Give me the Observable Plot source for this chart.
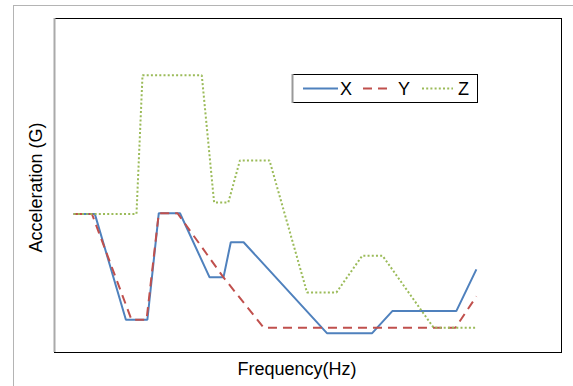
<!DOCTYPE html>
<html>
<head>
<meta charset="utf-8">
<script src="https://cdn.jsdelivr.net/npm/d3@7"></script>
<script src="https://cdn.jsdelivr.net/npm/@observablehq/plot@0.6"></script>
<style>
  html, body { margin: 0; padding: 0; background: #fff; }
  #wrap { position: relative; width: 573px; height: 386px; overflow: hidden; font-family: "Liberation Sans", Arial, sans-serif; }
  #outer { position: absolute; left: 13px; top: 5px; width: 600px; height: 400px; border-left: 1.5px solid #b4b4b4; border-top: 1.5px solid #b4b4b4; }
  #legend { position: absolute; left: 0; top: 0; }
</style>
</head>
<body>
<div id="wrap"><div id="outer"></div></div>
<script>
// Series (frequency in arbitrary units, acceleration in arbitrary G units; no tick labels on the original)
const seriesNames = ["X", "Y", "Z"];
const xFreq = [3.77, 7.95, 14.08, 18.32, 20.57, 24.75, 30.59, 33.33, 34.77, 37.3, 53.73, 62.66, 66.63, 79.25, 83.21];
const xAcc  = [4.15, 4.15, 0.98, 0.98, 4.17, 4.17, 2.25, 2.25, 3.3, 3.3, 0.58, 0.58, 1.24, 1.24, 2.49];
const yFreq = [3.77, 7.38, 15.19, 18.15, 20.57, 24.26, 33.33, 41.26, 79.09, 83.21];
const yAcc  = [4.15, 4.15, 0.98, 0.98, 4.17, 4.17, 2.25, 0.74, 0.74, 1.68];
const zFreq = [3.77, 16.17, 17.36, 29.05, 31.48, 34.28, 36.57, 42.41, 49.8, 55.62, 60.71, 64.69, 74.79, 83.21];
const zAcc  = [4.15, 4.15, 8.3, 8.3, 4.49, 4.49, 5.75, 5.75, 1.8, 1.8, 2.9, 2.9, 0.74, 0.74];
const xLabel = "Frequency(Hz)";
const yLabel = "Acceleration (G)";

const colors = {X: "#4F81BD", Y: "#C0504D", Z: "#9BBB59"};
const dashes = {X: null, Y: "9,6", Z: "2,2.2"};
const toRows = (f, a) => f.map((v, i) => ({f: v, a: a[i]}));
const rows = {X: toRows(xFreq, xAcc), Y: toRows(yFreq, yAcc), Z: toRows(zFreq, zAcc)};

const chart = Plot.plot({
  width: 573,
  height: 386,
  marginLeft: 54,
  marginRight: 12,
  marginTop: 18,
  marginBottom: 34,
  style: {fontFamily: "'Liberation Sans', Arial, sans-serif", background: "transparent", overflow: "visible"},
  x: {domain: [0, 100], axis: null},
  y: {domain: [0, 10], axis: null},
  marks: [
    Plot.frame({stroke: "#000", strokeWidth: 1}),
    Plot.ruleX([0], {stroke: "#aaa", strokeWidth: 2}),
    ...seriesNames.map(s => Plot.line(rows[s], {
      x: "f", y: "a", stroke: colors[s], strokeWidth: 2,
      strokeDasharray: dashes[s], strokeLinejoin: "miter", strokeLinecap: "butt"
    })),
    Plot.text([yLabel], {frameAnchor: "left", textAnchor: "middle", dx: -18, dy: 2, rotate: -90, fontSize: 18, fill: "#000"}),
    Plot.text([xLabel], {frameAnchor: "bottom", textAnchor: "middle", lineAnchor: "middle", dx: -11, dy: 17, fontSize: 18, fill: "#000"})
  ]
});
chart.style.position = "absolute";
chart.style.left = "0px";
chart.style.top = "0px";
document.getElementById("wrap").appendChild(chart);

// Legend overlay (inside the plot area, as in the original)
const ns = "http://www.w3.org/2000/svg";
const lg = document.createElementNS(ns, "svg");
lg.setAttribute("id", "legend");
lg.setAttribute("width", 573);
lg.setAttribute("height", 386);
const box = {x: 292, y: 74, w: 185, h: 28};
const r = document.createElementNS(ns, "rect");
r.setAttribute("x", box.x + 0.5); r.setAttribute("y", box.y + 0.5);
r.setAttribute("width", box.w); r.setAttribute("height", box.h);
r.setAttribute("fill", "#fff"); r.setAttribute("stroke", "#000");
lg.appendChild(r);
const edge = document.createElementNS(ns, "line");
edge.setAttribute("x1", box.x + 0.5); edge.setAttribute("x2", box.x + 0.5);
edge.setAttribute("y1", box.y); edge.setAttribute("y2", box.y + box.h + 1);
edge.setAttribute("stroke", "#999"); edge.setAttribute("stroke-width", 2);
lg.appendChild(edge);
const items = [
  {s: "X", x1: 303, x2: 338, tx: 340},
  {s: "Y", x1: 363, x2: 391, tx: 398},
  {s: "Z", x1: 422, x2: 453, tx: 458}
];
const ly = 88.5;
for (const it of items) {
  const l = document.createElementNS(ns, "line");
  l.setAttribute("x1", it.x1); l.setAttribute("x2", it.x2);
  l.setAttribute("y1", ly); l.setAttribute("y2", ly);
  l.setAttribute("stroke", colors[it.s]); l.setAttribute("stroke-width", 2);
  if (dashes[it.s]) l.setAttribute("stroke-dasharray", dashes[it.s]);
  lg.appendChild(l);
  const t = document.createElementNS(ns, "text");
  t.setAttribute("x", it.tx); t.setAttribute("y", ly + 6.5);
  t.setAttribute("font-size", 18);
  t.setAttribute("font-family", "'Liberation Sans', Arial, sans-serif");
  t.textContent = it.s;
  lg.appendChild(t);
}
document.getElementById("wrap").appendChild(lg);
</script>
</body>
</html>
